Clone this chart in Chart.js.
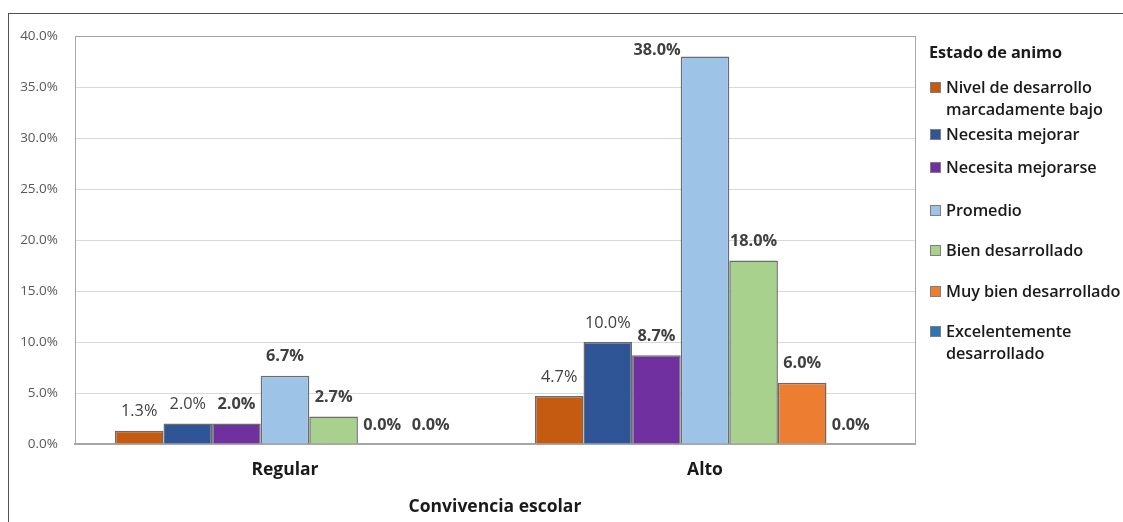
<!DOCTYPE html>
<html>
<head>
<meta charset="utf-8">
<script src="https://cdn.jsdelivr.net/npm/chart.js@4.4.1/dist/chart.umd.min.js"></script>
<style>
  html, body { margin: 0; padding: 0; background: #fff; overflow: hidden; }
  #wrap { position: relative; width: 1123px; height: 522px; }
  #frame { position: absolute; left: 8px; top: 13px; width: 1130px; height: 520px;
           border: 1.5px solid #505050; box-sizing: border-box; pointer-events: none; }
  #legend { position: absolute; left: 929px; top: 40px; width: 194px; overflow: hidden;
            font-family: "Open Sans", sans-serif; font-weight: 600; font-size: 16.3px; color: #1a1a1a;
            letter-spacing: -0.1px; }
  #legend .ttl { font-weight: 700; height: 24px; line-height: 24px; margin-bottom: 12px; }
  #legend .item { display: flex; align-items: flex-start; line-height: 22px; white-space: nowrap; }
  #legend .sw { width: 9px; height: 9px; border: 1px solid #7f7f7f; margin: 6px 5px 0 1px; flex: none; }
  #legend .item:nth-child(3) { margin-top: 3px; }
  #legend .item:nth-child(4) { margin-top: 11px; }
  #legend .item:nth-child(5) { margin-top: 21px; }
  #legend .item:nth-child(6) { margin-top: 18px; }
  #legend .item:nth-child(7) { margin-top: 19px; }
  #legend .item:nth-child(8) { margin-top: 18px; }
</style>
</head>
<body>
<div id="wrap">
  <canvas id="chart" width="1123" height="522"></canvas>
  <div id="frame"></div>
  <div id="legend"></div>
</div>
<script>
// categorías y series
const categories = ['Regular', 'Alto'];
const seriesNames = [
  ['Nivel de desarrollo', 'marcadamente bajo'],
  ['Necesita mejorar'],
  ['Necesita mejorarse'],
  ['Promedio'],
  ['Bien desarrollado'],
  ['Muy bien desarrollado'],
  ['Excelentemente', 'desarrollado']
];
const nivelBajo      = [1.3, 4.7];
const necMejorar     = [2.0, 10.0];
const necMejorarse   = [2.0, 8.7];
const promedio       = [6.7, 38.0];
const bienDes        = [2.7, 18.0];
const muyBienDes     = [0.0, 6.0];
const excelente      = [0.0, 0.0];
const seriesValues = [nivelBajo, necMejorar, necMejorarse, promedio, bienDes, muyBienDes, excelente];
const yTicks = [0, 5, 10, 15, 20, 25, 30, 35, 40];

const colors = ['#C55A11', '#2F5597', '#7030A0', '#9DC3E6', '#A9D18E', '#ED7D31', '#2E75B6'];
const boldLabel = [false, false, true, true, true, true, true];
const FONT = '"Open Sans", sans-serif';

// leyenda html
const $legend = document.getElementById('legend');
$legend.innerHTML = '<div class="ttl">Estado de animo</div>' + seriesNames.map((n, i) =>
  `<div class="item"><div class="sw" style="background:${colors[i]}"></div><div>${n.join('<br>')}</div></div>`
).join('');

// etiquetas de datos
const barLabels = {
  id: 'barLabels',
  afterDatasetsDraw(chart) {
    const { ctx, chartArea } = chart;
    ctx.save();
    ctx.fillStyle = '#404040';
    ctx.textBaseline = 'middle';
    chart.data.datasets.forEach((ds, i) => {
      const meta = chart.getDatasetMeta(i);
      ctx.font = (boldLabel[i] ? '700 ' : '400 ') + '16.3px ' + FONT;
      meta.data.forEach((bar, j) => {
        const txt = ds.data[j].toFixed(1) + '%';
        let x = bar.x, y = bar.y - 19;
        ctx.textAlign = 'center';
        if (y < chartArea.top + 10) {
          // no cabe arriba: a la izquierda de la barra
          x = bar.x - bar.width / 2;
          y = bar.y - 6;
          ctx.textAlign = 'right';
        }
        ctx.fillText(txt, x, y);
      });
    });
    ctx.restore();
  }
};

// borde del área de trazado
const plotBorder = {
  id: 'plotBorder',
  beforeDatasetsDraw(chart) {
    const { ctx, chartArea: a } = chart;
    ctx.save();
    ctx.strokeStyle = '#a6a6a6';
    ctx.lineWidth = 1;
    ctx.strokeRect(a.left + 0.5, a.top + 0.5, a.right - a.left, a.bottom - a.top);
    ctx.restore();
  }
};

new Chart(document.getElementById('chart'), {
  type: 'bar',
  data: {
    labels: categories,
    datasets: seriesValues.map((vals, i) => ({
      label: seriesNames[i].join(' '),
      data: vals,
      backgroundColor: colors[i],
      borderColor: '#6b6b6b',
      borderWidth: 1.5,
      barPercentage: 1,
      categoryPercentage: 0.81
    }))
  },
  options: {
    responsive: false,
    animation: false,
    layout: { padding: { top: 36, right: 208, left: 0, bottom: 0 } },
    plugins: {
      legend: { display: false },
      tooltip: { enabled: false }
    },
    scales: {
      y: {
        min: 0, max: 40,
        afterFit: s => { s.width = 75; },
        afterBuildTicks: s => { s.ticks = yTicks.map(v => ({ value: v })); },
        ticks: {
          padding: 17,
          color: '#595959',
          font: { family: FONT, size: 13.5 },
          callback: v => v.toFixed(1) + '%'
        },
        grid: { color: '#d9d9d9', drawTicks: false },
        border: { display: false }
      },
      x: {
        afterFit: s => { s.height = 78; },
        ticks: {
          padding: 16,
          color: '#1a1a1a',
          font: { family: FONT, size: 17.5, weight: '700' }
        },
        grid: { display: false, drawTicks: false },
        border: { color: '#a6a6a6', width: 2 },
        title: {
          display: true,
          text: 'Convivencia escolar',
          color: '#1a1a1a',
          font: { family: FONT, size: 17.5, weight: '700' },
          padding: { top: 11 }
        }
      }
    }
  },
  plugins: [plotBorder, barLabels]
});
</script>
</body>
</html>
